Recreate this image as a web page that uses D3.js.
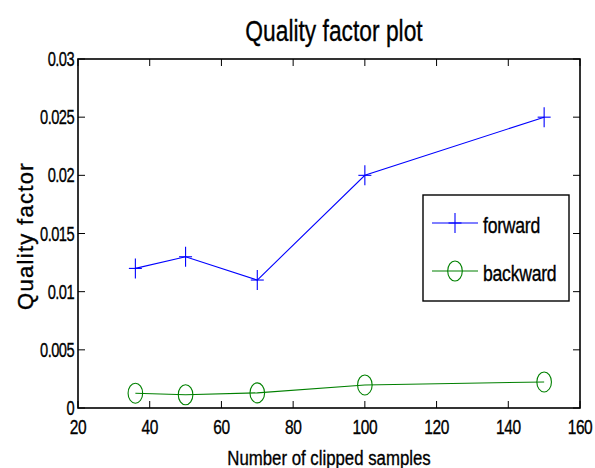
<!DOCTYPE html>
<html>
<head>
<meta charset="utf-8">
<script src="https://cdn.jsdelivr.net/npm/d3@7"></script>
<style>
  html, body { margin: 0; padding: 0; background: #fff; }
  svg { display: block; }
  text { font-family: "Liberation Sans", Arial, sans-serif; fill: #000; stroke: #000; stroke-width: 0.35; }
</style>
</head>
<body>
<script>
const samples = [36, 50, 70, 100, 150];
const forward = [0.012, 0.013, 0.011, 0.020, 0.025];
const backward = [0.00127, 0.00114, 0.0013, 0.00198, 0.00224];
const xTicks = [20, 40, 60, 80, 100, 120, 140, 160];
const yTicks = [0, 0.005, 0.01, 0.015, 0.02, 0.025, 0.03];
const yTickLabels = ["0", "0.005", "0.01", "0.015", "0.02", "0.025", "0.03"];
const seriesNames = ["forward", "backward"];

const W = 595, H = 468;
const L = 78, R = 580, T = 59, B = 408;

const svg = d3.select("body").append("svg").attr("width", W).attr("height", H);

const x = d3.scaleLinear().domain([20, 160]).range([L, R]);
const y = d3.scaleLinear().domain([0, 0.03]).range([B, T]);

function ctext(g, tx, ty, str, size, sx, anchor, ls) {
  return g.append("text")
    .attr("transform", `translate(${tx},${ty}) scale(${sx},1)`)
    .attr("text-anchor", anchor)
    .attr("font-size", size)
    .attr("letter-spacing", ls || 0)
    .text(str);
}

const tickLen = 7;
const tg = svg.append("g").attr("stroke", "#000").attr("stroke-width", 1);
xTicks.forEach(v => {
  tg.append("line").attr("x1", x(v)).attr("x2", x(v)).attr("y1", B).attr("y2", B - tickLen);
  tg.append("line").attr("x1", x(v)).attr("x2", x(v)).attr("y1", T).attr("y2", T + tickLen);
});
yTicks.forEach(v => {
  tg.append("line").attr("x1", L).attr("x2", L + tickLen).attr("y1", y(v)).attr("y2", y(v));
  tg.append("line").attr("x1", R).attr("x2", R - tickLen).attr("y1", y(v)).attr("y2", y(v));
});

svg.append("rect").attr("x", L).attr("y", T).attr("width", R - L).attr("height", B - T)
  .attr("fill", "none").attr("stroke", "#000").attr("stroke-width", 1.6);

const lg = svg.append("g");
xTicks.forEach(v => ctext(lg, x(v), B + 26, String(v), 21, 0.74, "middle", -0.6));
yTicks.forEach((v, i) => ctext(lg, L - 4, y(v) + 7, yTickLabels[i], 21, 0.7, "end", -0.8));

ctext(svg, 334, 41, "Quality factor plot", 30, 0.76, "middle");
ctext(svg, 329, 465, "Number of clipped samples", 21, 0.8, "middle");
svg.append("text")
  .attr("transform", `translate(33,236) rotate(-90)`)
  .attr("text-anchor", "middle")
  .attr("font-size", 22)
  .attr("letter-spacing", 1.3)
  .text("Quality factor");

const line = d3.line().x(d => x(d[0])).y(d => y(d[1]));
const fData = samples.map((s, i) => [s, forward[i]]);
const bData = samples.map((s, i) => [s, backward[i]]);

svg.append("path").attr("d", line(fData)).attr("fill", "none").attr("stroke", "#0000ff").attr("stroke-width", 1.1);
svg.append("path").attr("d", line(bData)).attr("fill", "none").attr("stroke", "#008000").attr("stroke-width", 1.1);

function plus(g, cx, cy, color) {
  g.append("line").attr("x1", cx - 6.5).attr("x2", cx + 6.5).attr("y1", cy).attr("y2", cy)
    .attr("stroke", color).attr("stroke-width", 1.1);
  g.append("line").attr("x1", cx).attr("x2", cx).attr("y1", cy - 10).attr("y2", cy + 10)
    .attr("stroke", color).attr("stroke-width", 1.1);
}
function circ(g, cx, cy, color) {
  g.append("ellipse").attr("cx", cx).attr("cy", cy).attr("rx", 7.3).attr("ry", 10)
    .attr("fill", "none").attr("stroke", color).attr("stroke-width", 1.1);
}
const mg = svg.append("g");
fData.forEach(d => plus(mg, x(d[0]), y(d[1]), "#0000ff"));
bData.forEach(d => circ(mg, x(d[0]), y(d[1]), "#008000"));

const leg = svg.append("g");
leg.append("rect").attr("x", 423).attr("y", 195).attr("width", 146).attr("height", 106)
  .attr("fill", "#fff").attr("stroke", "#000").attr("stroke-width", 1.4);
const ly = [223, 271];
leg.append("line").attr("x1", 432).attr("x2", 478).attr("y1", ly[0]).attr("y2", ly[0]).attr("stroke", "#0000ff").attr("stroke-width", 1.1);
plus(leg, 455, ly[0], "#0000ff");
leg.append("line").attr("x1", 432).attr("x2", 478).attr("y1", ly[1]).attr("y2", ly[1]).attr("stroke", "#008000").attr("stroke-width", 1.1);
circ(leg, 455, ly[1], "#008000");
ctext(leg, 483, ly[0] + 10, seriesNames[0], 22, 0.8, "start", -0.3);
ctext(leg, 483, ly[1] + 10, seriesNames[1], 22, 0.8, "start", -0.3);
</script>
</body>
</html>
